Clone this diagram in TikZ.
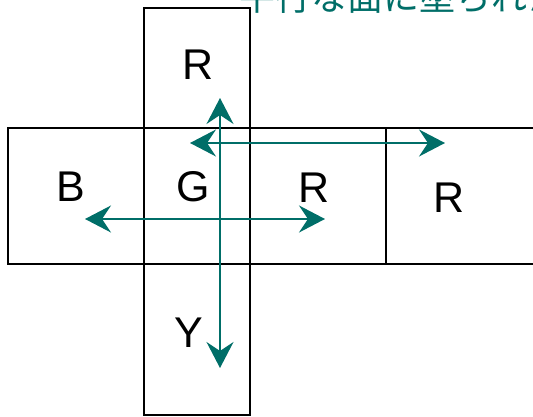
\documentclass[tikz,border=0pt]{standalone}
\usepackage{fontspec}
\setmainfont{Liberation Sans}
\newfontfamily\cjk{Noto Sans CJK JP}
\usetikzlibrary{arrows.meta, positioning}
\definecolor{arrowteal}{RGB}{0,110,104}

\begin{document}
\begin{tikzpicture}[
    x=1pt, y=-1pt,
    face/.style={draw, line width=1.8pt, inner sep=0pt, outer sep=0pt,
                 minimum height=136pt},
    letter/.style={anchor=base, inner sep=0pt, font=\fontsize{43}{43}\selectfont},
    dir/.style={{Stealth[length=26pt, width=27pt, inset=9pt]}-{Stealth[length=26pt, width=27pt, inset=9pt]},
                line width=2pt, draw=arrowteal}
]
\useasboundingbox (0,0) rectangle (533,417);
% net of the cube
\node[face, minimum width=106pt] (G) at (197,196) {};
\node[face, minimum width=106pt, minimum height=120pt, above=0pt of G] (top) {};
\node[face, minimum width=106pt, minimum height=151pt, below=0pt of G] (bottom) {};
\node[face, minimum width=136pt, left=0pt of G] (left) {};
\node[face, minimum width=136pt, right=0pt of G] (right) {};
\node[face, minimum width=180pt, right=0pt of right] (far) {};
% face colours
\node[letter] (lTop) at (198,80) {R};
\node[letter] (lLeft) at (70.5,201) {B};
\node[letter] (lG) at (193,201) {G};
\node[letter] (lRight) at (314,202) {R};
\node[letter] (lFar) at (449,212) {R};
\node[letter] (lBottom) at (188.5,347) {Y};
% heading (cut off at the top)
\node[anchor=base west, inner sep=0pt, text=arrowteal, font=\cjk\fontsize{36}{36}\selectfont]
    (title) at (239,11) {平行な面に塗られた};
% parallel faces
\coordinate (vUp) at (220,98);
\coordinate (vDown) at (220,368);
\coordinate (hUpL) at (190,143);
\coordinate (hUpR) at (445,143);
\coordinate (hLowL) at (85,219);
\coordinate (hLowR) at (325,219);
\draw[dir] (vUp) -- (vDown);
\draw[dir] (hUpL) -- (hUpR);
\draw[dir] (hLowL) -- (hLowR);
\end{tikzpicture}
\end{document}
